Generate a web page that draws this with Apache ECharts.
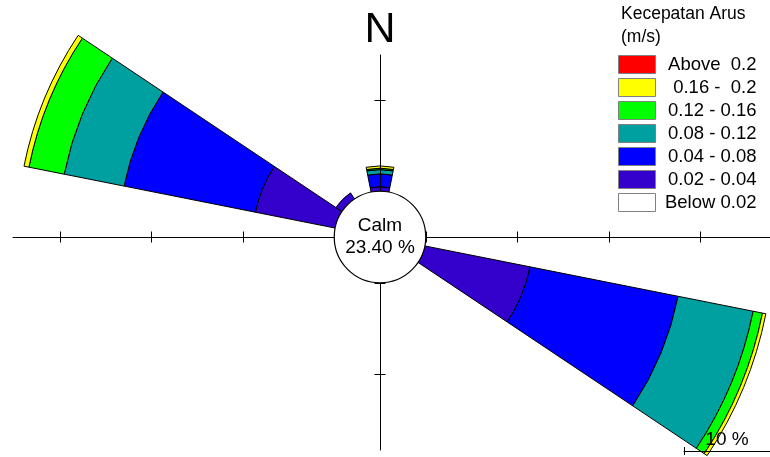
<!DOCTYPE html>
<html>
<head>
<meta charset="utf-8">
<script src="https://cdn.jsdelivr.net/npm/echarts@6/dist/echarts.min.js"></script>
<style>
  html, body { margin: 0; padding: 0; background: #fff; }
  #chart { width: 770px; height: 457px; }
</style>
</head>
<body>
<div id="chart"></div>
<script>
// 16 compass sectors, clockwise from north
const directions = ["N", "NNE", "NE", "ENE", "E", "ESE", "SE", "SSE",
                    "S", "SSW", "SW", "WSW", "W", "WNW", "NW", "NNW"];

// speed classes, inner (slow) to outer (fast)
const speedClasses = ["Below 0.02", "0.02 - 0.04", "0.04 - 0.08", "0.08 - 0.12",
                      "0.12 - 0.16", "0.16 -  0.2", "Above  0.2"];
const classColors = ["#ffffff", "#3300cc", "#0000ff", "#00a0a0", "#00ff00", "#ffff00", "#ff0000"];

// frequency (%) per direction for each class
const below002 = [0, 0, 0, 0, 0, 0, 0, 0, 0, 0, 0, 0, 0, 0, 0, 0];
const s002_004 = [0.5, 0, 0, 0, 0, 11.72, 0, 0, 0, 0, 0, 0, 0, 8.88, 0.8, 0];
const s004_008 = [1.4, 0, 0, 0, 0, 16.5, 0, 0, 0, 0, 0, 0, 0, 14.64, 0, 0];
const s008_012 = [0.47, 0, 0, 0, 0, 8.36, 0, 0, 0, 0, 0, 0, 0, 6.67, 0, 0];
const s012_016 = [0.15, 0, 0, 0, 0, 1.04, 0, 0, 0, 0, 0, 0, 0, 3.93, 0, 0];
const s016_020 = [0.25, 0, 0, 0, 0, 0.38, 0, 0, 0, 0, 0, 0, 0, 0.55, 0, 0];
const above020 = [0, 0, 0, 0, 0, 0, 0, 0, 0, 0, 0, 0, 0, 0, 0, 0];
const classValues = [below002, s002_004, s004_008, s008_012, s012_016, s016_020, above020];

const calmPct = 23.4;
const scaleBarPct = 10;
const ringTicks = [-35, -25, -15, -5, 5, 15, 25, 35];   // ring ticks, half-ring offset for calm
const ringTicksV = [-15, -5, 5, 15];

// layout
const cx = 380, cy = 237;
const pxPerPct = 9.15;
const calmR = 5 * pxPerPct;            // calm circle = half a ring
const rMax = 40;
const gLeft = 13, gRight = 770, gTop = 55, gBottom = 450;
const font = "'Liberation Sans', Arial, sans-serif";

const chart = echarts.init(document.getElementById("chart"));

const barSeries = speedClasses.map((name, i) => ({
  name: name,
  type: "bar",
  coordinateSystem: "polar",
  stack: "rose",
  barCategoryGap: "0%",
  z: 2,
  silent: true,
  itemStyle: { color: classColors[i], borderColor: "#000", borderWidth: 1 },
  data: classValues[i].map(v => (v > 0 ? v : "-"))
}));

const tickStyle = { show: true, length: 5.5, lineStyle: { color: "#000", width: 1 } };

chart.setOption({
  animation: false,
  textStyle: { fontFamily: font, color: "#000" },
  title: {
    text: "Kecepatan Arus\n(m/s)",
    left: 621,
    top: 3,
    padding: 0,
    textStyle: { fontFamily: font, fontSize: 17.5, fontWeight: "normal", lineHeight: 23, color: "#000" }
  },
  legend: {
    orient: "vertical",
    left: 618,
    top: 55,
    padding: 0,
    itemWidth: 37,
    itemHeight: 18,
    itemGap: 4,
    icon: "rect",
    selectedMode: false,
    data: speedClasses.slice().reverse(),
    itemStyle: { borderColor: "#808080", borderWidth: 1 },
    formatter: name => "{t|" + name + "}",
    textStyle: {
      rich: { t: { width: 96, align: "right", fontSize: 18.5, fontFamily: font, color: "#000" } }
    }
  },
  polar: { center: [cx, cy], radius: [calmR, calmR + rMax * pxPerPct] },
  angleAxis: {
    type: "category",
    data: directions,
    startAngle: 90 + 360 / 32,
    clockwise: true,
    show: false
  },
  radiusAxis: { type: "value", min: 0, max: rMax, show: false },
  grid: [
    { left: gLeft, top: gTop, width: gRight - gLeft, height: gBottom - gTop },
    { left: 684, top: 451, width: scaleBarPct * pxPerPct, height: 0 }
  ],
  xAxis: [
    {
      gridIndex: 0, type: "value", position: "bottom", z: 3,
      min: -(cx - gLeft) / pxPerPct, max: (gRight - cx) / pxPerPct,
      axisLine: { show: true, onZero: true, onZeroAxisIndex: 0, lineStyle: { color: "#000", width: 1 } },
      axisTick: Object.assign({ customValues: ringTicks }, tickStyle),
      axisLabel: { show: false }, splitLine: { show: false }
    },
    {
      gridIndex: 0, type: "value", position: "top", z: 3,
      min: -(cx - gLeft) / pxPerPct, max: (gRight - cx) / pxPerPct,
      axisLine: { show: false, onZero: true, onZeroAxisIndex: 0 },
      axisTick: Object.assign({ customValues: ringTicks }, tickStyle),
      axisLabel: { show: false }, splitLine: { show: false }
    },
    {
      gridIndex: 1, type: "value", position: "bottom", z: 3, min: 0, max: scaleBarPct,
      axisLine: { show: true, onZero: false, lineStyle: { color: "#000", width: 1 } },
      axisTick: { show: true, customValues: [0], length: 4, lineStyle: { color: "#000" } },
      axisLabel: { show: false }, splitLine: { show: false }
    },
    {
      gridIndex: 1, type: "value", position: "top", z: 3, min: 0, max: scaleBarPct,
      axisLine: { show: false, onZero: false },
      axisTick: { show: true, customValues: [0], length: 4, lineStyle: { color: "#000" } },
      axisLabel: { show: false }, splitLine: { show: false },
      name: scaleBarPct + " %",
      nameLocation: "middle",
      nameGap: 2,
      nameTextStyle: { fontFamily: font, fontSize: 19, color: "#000" }
    }
  ],
  yAxis: [
    {
      gridIndex: 0, type: "value", position: "left", z: 3,
      min: -(gBottom - cy) / pxPerPct, max: (cy - gTop) / pxPerPct,
      axisLine: { show: true, onZero: true, onZeroAxisIndex: 0, lineStyle: { color: "#000", width: 1 } },
      axisTick: Object.assign({ customValues: ringTicksV }, tickStyle),
      axisLabel: { show: false }, splitLine: { show: false },
      name: "N",
      nameLocation: "end",
      nameGap: 3,
      nameTextStyle: { fontFamily: "'Liberation Sans Narrow', 'Liberation Sans', sans-serif", fontSize: 43, color: "#000" }
    },
    {
      gridIndex: 0, type: "value", position: "right", z: 3,
      min: -(gBottom - cy) / pxPerPct, max: (cy - gTop) / pxPerPct,
      axisLine: { show: false, onZero: true, onZeroAxisIndex: 0 },
      axisTick: Object.assign({ customValues: ringTicksV }, tickStyle),
      axisLabel: { show: false }, splitLine: { show: false }
    },
    { gridIndex: 1, type: "value", min: 0, max: 1, show: false }
  ],
  series: barSeries.concat([
    {
      name: "Calm",
      type: "pie",
      center: [cx, cy],
      radius: [0, calmR],
      z: 5,
      silent: true,
      label: {
        position: "center",
        formatter: p => "Calm\n" + p.value.toFixed(2) + " %",
        fontFamily: font,
        fontSize: 19,
        lineHeight: 22,
        color: "#000"
      },
      labelLine: { show: false },
      emphasis: { disabled: true },
      itemStyle: { color: "#fff", borderColor: "#000", borderWidth: 1.2 },
      data: [{ name: "Calm", value: calmPct }]
    }
  ])
});

window.addEventListener("resize", () => chart.resize());
</script>
</body>
</html>
